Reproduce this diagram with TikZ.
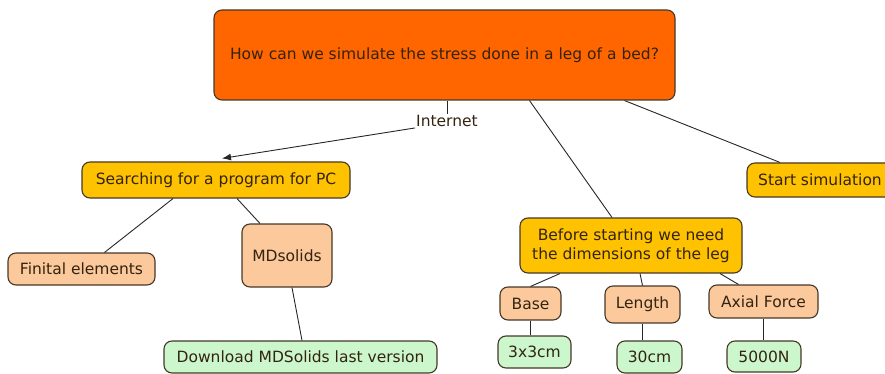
\documentclass[tikz,border=0pt]{standalone}
\usepackage{fontspec}
\setmainfont{DejaVu Sans}
\usepackage{tikz}
\usepackage{xcolor}
\usetikzlibrary{arrows.meta,positioning,calc}
\definecolor{rootorange}{HTML}{FF6600}
\definecolor{stepgold}{HTML}{FFC200}
\definecolor{itempeach}{HTML}{FBC99C}
\definecolor{leafgreen}{HTML}{CCF7CC}
\definecolor{boxedge}{HTML}{463826}
\definecolor{inktext}{HTML}{33230F}

\begin{document}
\begin{tikzpicture}[x=1pt, y=-1pt, >={Latex[length=9pt,width=7pt]}, font=\fontsize{15.5}{18.5}\selectfont]
\tikzstyle{box}=[draw=boxedge, line width=1.1pt, rounded corners=8pt, inner sep=0pt, align=center, text=inktext]
\tikzstyle{question}=[box, fill=rootorange]
\tikzstyle{stage}=[box, fill=stepgold]
\tikzstyle{item}=[box, fill=itempeach]
\tikzstyle{leaf}=[box, fill=leafgreen]
\tikzstyle{link}=[draw=black!85, line width=0.9pt]
\useasboundingbox (0,0) rectangle (885,374);
% top question
\node[question, minimum width=461pt, minimum height=90pt] (root) at (444.5,55) {How can we simulate the stress done in a leg of a bed?};
\node[text=inktext, inner sep=1pt] (internet) at (447,121) {Internet};
% left branch
\node[stage, minimum width=268pt, minimum height=36pt] (search) at (216,180) {Searching for a program for PC};
\node[item, minimum width=147pt, minimum height=32pt] (finital) at (81.5,269) {Finital elements};
\node[item, minimum width=90pt, minimum height=63pt] (mdsolids) at (287,255.5) {MDsolids};
\node[leaf, minimum width=273pt, minimum height=32pt] (download) at (300.5,357) {Download MDSolids last version};
% right branch
\node[stage, minimum width=146pt, minimum height=34pt] (start) at (820,180) {Start simulation};
\node[stage, minimum width=222pt, minimum height=55pt] (before) at (631,245.5) {Before starting we need\\the dimensions of the leg};
\node[item, minimum width=61pt, minimum height=33pt] (base) at (530.5,303.5) {Base};
\node[item, minimum width=75pt, minimum height=37pt] (length) at (642.5,304.5) {Length};
\node[item, minimum width=109pt, minimum height=33pt] (axial) at (763.5,301.5) {Axial Force};
\node[leaf, minimum width=73pt, minimum height=32pt] (base val) at (534.5,352) {3x3cm};
\node[leaf, minimum width=65pt, minimum height=32pt] (length val) at (649.5,357) {30cm};
\node[leaf, minimum width=74pt, minimum height=31pt] (axial val) at (764,356.5) {5000N};
% connectors
\draw[link] (root.south -| internet) -- (internet.north);
\draw[link, ->] (internet.south west) -- ($(search.north)+(6,-3)$);
\draw[link] ($(root.south)+(85,0)$) -- ($(before.north)+(-19,0)$);
\draw[link] ($(root.south)+(180,0)$) -- ($(start.north)+(-40,0)$);
\draw[link] ($(search.south)+(-43,0)$) -- ($(finital.north)+(23,0)$);
\draw[link] ($(search.south)+(21,0)$) -- ($(mdsolids.north)+(-27,0)$);
\draw[link] ($(mdsolids.south)+(5,0)$) -- ($(download.north)+(1.5,0)$);
\draw[link] ($(before.south)+(-71,0)$) -- (base.north);
\draw[link] ($(before.south)+(9,0)$) -- (length.north);
\draw[link] ($(before.south)+(89,0)$) -- ($(axial.north)+(-25,0)$);
\draw[link] (base.south) -- (base.south |- base val.north);
\draw[link] (length.south) -- (length.south |- length val.north);
\draw[link] (axial.south) -- (axial.south |- axial val.north);
\end{tikzpicture}
\end{document}
